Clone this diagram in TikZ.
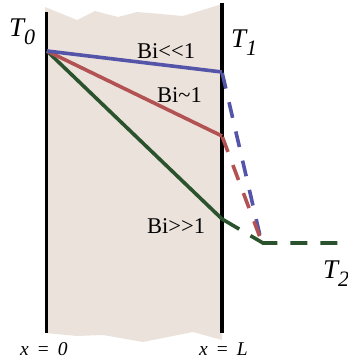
\documentclass[tikz,border=0pt]{standalone}
\usepackage{fontspec}
\setmainfont{Liberation Serif}[Ligatures=NoCommon]
\newcommand{\tsub}[1]{\raisebox{-8pt}{\fontsize{22}{22}\selectfont\itshape #1}}
\begin{document}
\begin{tikzpicture}[x=1pt,y=-1pt,
  wallline/.style={line width=3.6pt,black},
  prof/.style={line width=3.6pt},
  profdash/.style={line width=3.6pt,dash pattern=on 16pt off 14pt},
  bilabel/.style={font=\fontsize{22.5}{22.5}\selectfont,inner sep=0pt,anchor=base west},
  tlabel/.style={font=\fontsize{27}{27}\selectfont\itshape,inner sep=0pt,anchor=base west},
  xlabel/.style={font=\fontsize{19.5}{19.5}\selectfont\itshape,inner sep=0pt,anchor=base west}]
\definecolor{wallfill}{RGB}{235,226,220}
\definecolor{bblue}{RGB}{84,84,168}
\definecolor{bred}{RGB}{178,82,82}
\definecolor{bgreen}{RGB}{42,82,44}
\useasboundingbox (0,0) rectangle (348,362);
% wall with jagged edges
\fill[wallfill] (45,7) -- (77,20) -- (95,11) -- (118,17) -- (137,12) -- (150,13) -- (183,16) -- (222,4)
  -- (222,340) -- (193,332) -- (143,342) -- (103,335) -- (77,336) -- (46,333) -- cycle;
\draw[wallline] (46.5,12) -- (46.5,333);
\draw[wallline] (222,3) -- (222,333);
% coordinates
\coordinate (s) at (47,51);
\coordinate (bE) at (222,72);
\coordinate (rE) at (222,136);
\coordinate (gE) at (222,219);
\coordinate (m) at (261,240);
\coordinate (gK) at (263,243);
\coordinate (gR) at (348,243);
% profiles
\draw[prof,bgreen] (s) -- (gE);
\draw[prof,bred] (s) -- (rE);
\draw[prof,bblue] (s) -- (bE);
\draw[profdash,bblue,dash phase=-1pt] (bE) -- (m);
\draw[profdash,bred,dash phase=-1pt] (rE) -- (m);
\draw[line width=3.6pt,bgreen,dash pattern=on 20pt off 13pt on 29pt off 13pt on 17pt off 13pt on 17pt off 13pt on 17pt off 13pt on 17pt off 13pt] (gE) -- (gK) -- (gR);
% labels
\node[tlabel] (t0) at (9,36) {T\tsub{0}};
\node[tlabel] (t1) at (231,47) {T\tsub{1}};
\node[tlabel] (t2) at (323,278) {T\tsub{2}};
\node[bilabel] (b1) at (137,58) {Bi{<}{<}1};
\node[bilabel] (b2) at (157,102) {Bi\char`~1};
\node[bilabel] (b3) at (147,233) {Bi{>}{>}1};
\node[xlabel] (x0) at (20,355) {x\hspace{3pt} =\hspace{3pt} 0};
\node[xlabel] (xL) at (199,355) {x\hspace{3pt} =\hspace{3pt} L};
\end{tikzpicture}
\end{document}
